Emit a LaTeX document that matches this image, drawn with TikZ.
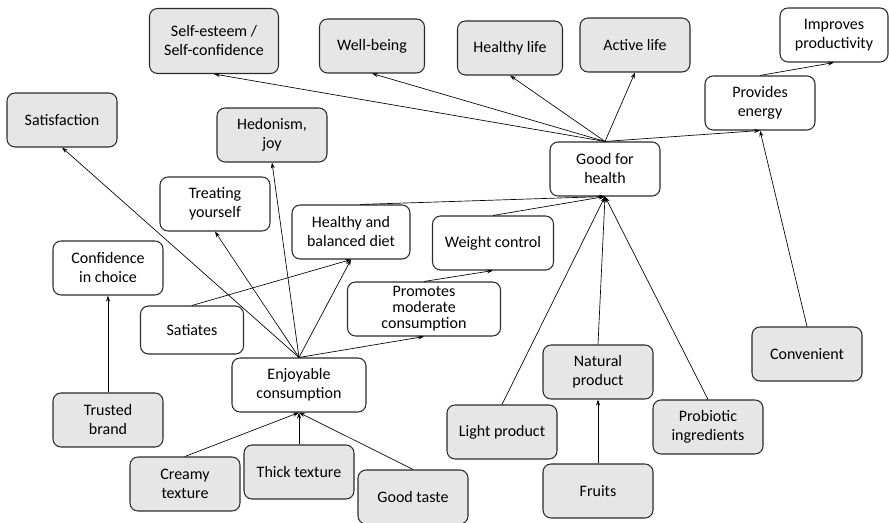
\documentclass[tikz,border=0pt]{standalone}
\usepackage{fontspec}
\setmainfont{Carlito}
\usetikzlibrary{arrows.meta}
\definecolor{boxgray}{HTML}{E6E6E6}
\definecolor{boxline}{HTML}{2B2B2B}
\tikzset{
  concept/.style={rectangle,rounded corners=6pt,draw=boxline,line width=0.8pt,
                  fill=white,minimum width=82.5pt,minimum height=40.5pt,
                  align=center,inner sep=1pt,font=\fontsize{12}{14.25}\selectfont},
  attrib/.style ={concept,fill=boxgray},
  arr/.style    ={-{Stealth[length=4.5pt,width=3pt]},line width=0.5pt}
}

\begin{document}
\begin{tikzpicture}[x=0.75pt,y=-0.75pt]
  \useasboundingbox (0,0) rectangle (889,523);

  % Nodes
  \node (selfest)   [attrib, minimum width=96.75pt, minimum height=48.75pt] at (214,41) {Self-esteem /\\Self-confidence};
  \node (wellbeing) [attrib, minimum width=78.75pt] at (372,46)  {Well-being};
  \node (healthy)   [attrib, minimum width=78.75pt] at (510,48)  {Healthy life};
  \node (active)    [attrib]                        at (635,45)  {Active life};
  \node (improves)  [concept, minimum width=81pt]   at (834,35)  {Improves\\productivity};
  \node (energy)    [concept]                       at (760,103) {Provides\\energy};
  \node (goodhlth)  [concept]                       at (605,169) {Good for\\health};
  \node (satisf)    [attrib]                        at (62,120)  {Satisfaction};
  \node (hedonism)  [attrib]                        at (272,135) {Hedonism,\\joy};
  \node (treating)  [concept]                       at (215,204) {Treating\\yourself};
  \node (diet)      [concept, minimum width=88.5pt] at (351,232) {Healthy and\\balanced diet};
  \node (weight)    [concept, minimum width=90.75pt] at (493,243) {Weight control};
  \node (confid)    [concept]                       at (108,268) {Confidence\\in choice};
  \node (satiates)  [concept, minimum width=77.25pt, minimum height=36pt] at (192,330) {Satiates};
  \node (moderate)  [concept, minimum width=114.75pt, font=\fontsize{12}{12}\selectfont] at (424,309) {Promotes\\moderate\\consumption};
  \node (enjoy)     [concept, minimum width=100.5pt] at (299,385) {Enjoyable\\consumption};
  \node (convenient)[attrib]                        at (807,354) {Convenient};
  \node (natural)   [attrib]                        at (598,372) {Natural\\product};
  \node (trusted)   [attrib]                        at (108,420) {Trusted\\brand};
  \node (light)     [attrib]                        at (502,432) {Light product};
  \node (probiotic) [attrib]                        at (708,427) {Probiotic\\ingredients};
  \node (thick)     [attrib]                        at (299,472) {Thick texture};
  \node (creamy)    [attrib]                        at (185,484) {Creamy\\texture};
  \node (taste)     [attrib]                        at (413,497) {Good taste};
  \node (fruits)    [attrib]                        at (598,491) {Fruits};

  % Arrows
  \draw [arr] (goodhlth.north) -- (selfest.south);
  \draw [arr] (goodhlth.north) -- (wellbeing.south);
  \draw [arr] (goodhlth.north) -- (healthy.south);
  \draw [arr] (goodhlth.north) -- (active.south);
  \draw [arr] (goodhlth.north) -- (energy.south);
  \draw [arr] (energy.north) -- (improves.south);
  \draw [arr] (convenient.north) -- (energy.south);
  \draw [arr] ([xshift=7pt]diet.north) -- (goodhlth.south);
  \draw [arr] (weight.north) -- (goodhlth.south);
  \draw [arr] (light.north) -- (goodhlth.south);
  \draw [arr] (natural.north) -- (goodhlth.south);
  \draw [arr] (probiotic.north) -- (goodhlth.south);
  \draw [arr] (fruits.north) -- (natural.south);
  \draw [arr] (moderate.north) -- (weight.south);
  \draw [arr] (enjoy.north) -- (satisf.south);
  \draw [arr] (enjoy.north) -- (treating.south);
  \draw [arr] (enjoy.north) -- (hedonism.south);
  \draw [arr] (enjoy.north) -- (diet.south);
  \draw [arr] (enjoy.north) -- (moderate.south);
  \draw [arr] (satiates.north) -- (diet.south);
  \draw [arr] (trusted.north) -- (confid.south);
  \draw [arr] (creamy.north) -- (enjoy.south);
  \draw [arr] (thick.north) -- (enjoy.south);
  \draw [arr] (taste.north) -- (enjoy.south);
\end{tikzpicture}
\end{document}
